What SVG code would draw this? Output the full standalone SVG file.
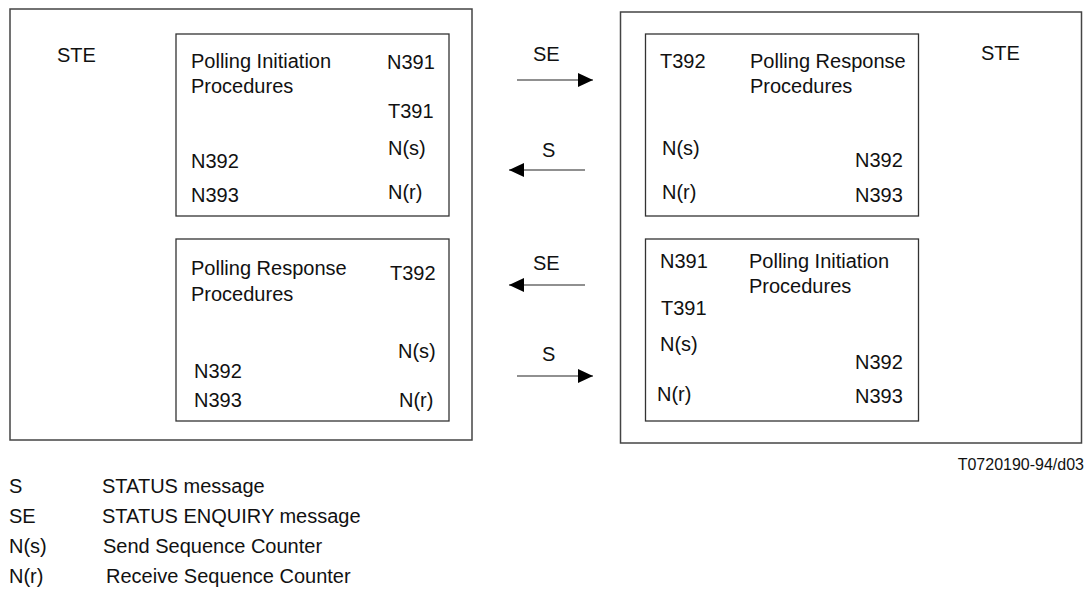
<svg xmlns="http://www.w3.org/2000/svg" width="1086" height="597" viewBox="0 0 1086 597">
<style>
  text { font-family: "Liberation Sans", Arial, Helvetica, sans-serif; font-size: 20px; fill: #111; }
  .small { font-size: 16px; }
  .outer { fill: none; stroke: #444; stroke-width: 1.5; }
  .inner { fill: none; stroke: #333; stroke-width: 1.3; }
  .conn { stroke: #222; stroke-width: 1.2; fill: none; marker-end: url(#ah); }
</style>
<defs>
  <marker id="ah" markerUnits="userSpaceOnUse" markerWidth="16" markerHeight="14" refX="15" refY="7" orient="auto">
    <path d="M0,0 L15,7 L0,14 Z" fill="#000"/>
  </marker>
</defs>
<rect width="1086" height="597" fill="#fff"/>

<g id="ste-left">
  <rect class="outer" x="10" y="9" width="462" height="431"/>
  <text x="57" y="62">STE</text>
</g>
<g id="ste-right">
  <rect class="outer" x="620.5" y="12" width="461" height="431"/>
  <text x="981" y="60">STE</text>
</g>

<g id="left-initiation">
  <rect class="inner" x="176" y="34" width="273" height="182"/>
  <text x="191" y="68">Polling Initiation</text>
  <text x="191" y="93">Procedures</text>
  <text x="387" y="69">N391</text>
  <text x="388" y="118">T391</text>
  <text x="388" y="155">N(s)</text>
  <text x="191" y="168">N392</text>
  <text x="191" y="202">N393</text>
  <text x="388" y="199">N(r)</text>
</g>

<g id="left-response">
  <rect class="inner" x="176" y="239" width="273" height="182"/>
  <text x="191" y="275">Polling Response</text>
  <text x="191" y="301">Procedures</text>
  <text x="390" y="280">T392</text>
  <text x="398" y="358">N(s)</text>
  <text x="194" y="378">N392</text>
  <text x="194" y="407">N393</text>
  <text x="399" y="407">N(r)</text>
</g>

<g id="right-response">
  <rect class="inner" x="645.5" y="34" width="273" height="182"/>
  <text x="660" y="68">T392</text>
  <text x="750" y="68">Polling Response</text>
  <text x="750" y="93">Procedures</text>
  <text x="662" y="155">N(s)</text>
  <text x="855" y="167">N392</text>
  <text x="662" y="199">N(r)</text>
  <text x="855" y="202">N393</text>
</g>

<g id="right-initiation">
  <rect class="inner" x="645.5" y="239" width="273" height="182"/>
  <text x="660" y="268">N391</text>
  <text x="749" y="268">Polling Initiation</text>
  <text x="749" y="293">Procedures</text>
  <text x="661" y="315">T391</text>
  <text x="660" y="351">N(s)</text>
  <text x="855" y="369">N392</text>
  <text x="657" y="401">N(r)</text>
  <text x="855" y="403">N393</text>
</g>

<g id="connectors">
  <line class="conn" x1="517" y1="80" x2="593" y2="80"/>
  <line class="conn" x1="585" y1="170" x2="509" y2="170"/>
  <line class="conn" x1="585" y1="285" x2="509" y2="285"/>
  <line class="conn" x1="517" y1="376" x2="593" y2="376"/>
  <text x="533" y="61">SE</text>
  <text x="542" y="157">S</text>
  <text x="533" y="270">SE</text>
  <text x="542" y="361">S</text>
</g>

<g id="figure-id">
  <text class="small" x="1084" y="470" text-anchor="end">T0720190-94/d03</text>
</g>

<g id="legend">
  <text x="9" y="493">S</text>
  <text x="102" y="493">STATUS message</text>
  <text x="9" y="523">SE</text>
  <text x="102" y="523">STATUS ENQUIRY message</text>
  <text x="9" y="553">N(s)</text>
  <text x="103" y="553">Send Sequence Counter</text>
  <text x="9" y="583">N(r)</text>
  <text x="106" y="583">Receive Sequence Counter</text>
</g>
</svg>
